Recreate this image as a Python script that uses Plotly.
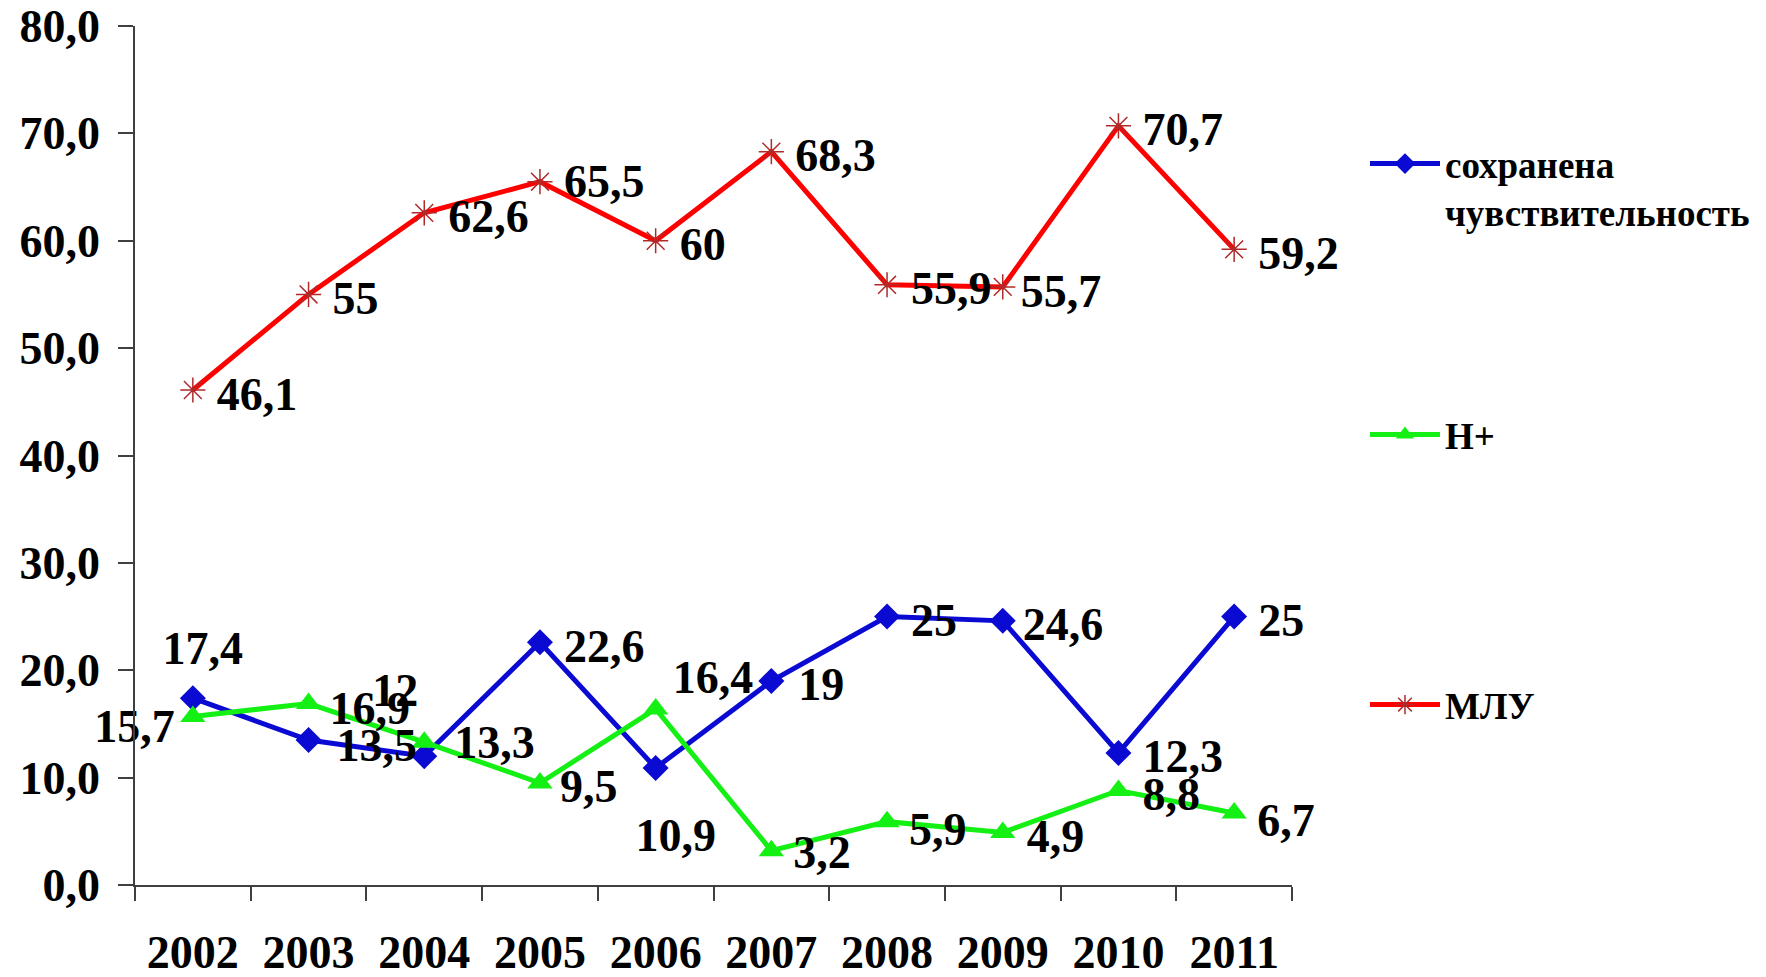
import plotly.graph_objects as go

years = ["2002", "2003", "2004", "2005", "2006", "2007", "2008", "2009", "2010", "2011"]
sens_name = "сохранена<br>чувствительность"
h_name = "Н+"
mdr_name = "МЛУ"
sens_vals = [17.4, 13.5, 12, 22.6, 10.9, 19, 25, 24.6, 12.3, 25]
h_vals = [15.7, 16.9, 13.3, 9.5, 16.4, 3.2, 5.9, 4.9, 8.8, 6.7]
mdr_vals = [46.1, 55, 62.6, 65.5, 60, 68.3, 55.9, 55.7, 70.7, 59.2]
y_ticks = [0, 10, 20, 30, 40, 50, 60, 70, 80]

FONT = "Liberation Serif, Times New Roman, serif"
BLUE = "#0a0ad2"
GREEN = "#14f014"
RED = "#ff0000"
STAR = "#b02a2a"

W, H = 1766, 977
ML, MR, MT, MB = 127, 482, 18, 100
PX_X = (W - ML - MR) / len(years)      # px per category
PX_Y = (H - MT - MB) / 80.0            # px per y unit

# label placement per point: (textposition, dx px, dy px [down +])
D = ("middle right", 24, 8)
sens_pos = [("middle center", 10, -46), ("middle right", 28, 9), ("middle center", -29, -62), D,
            ("middle center", 20, 72), ("middle right", 27, 8), D, ("middle right", 20, 8), D, D]
h_pos = [("middle left", -18, 14), ("middle right", 21, 9), ("middle right", 30, 4), ("middle right", 20, 8),
         ("middle right", 17, -27), ("middle right", 22, 6), ("middle right", 22, 12), D, D,
         ("middle right", 23, 11)]
mdr_pos = [D, D, D, ("middle right", 24, 4), D, D, D, ("middle right", 18, 9), D, D]


def fmt(v):
    return f"{v:g}".replace(".", ",")


fig = go.Figure()
fig.add_trace(go.Scatter(
    x=years, y=sens_vals, name="<b>" + sens_name + "</b>", mode="lines+markers",
    line=dict(color=BLUE, width=5),
    marker=dict(symbol="diamond", size=20, color=BLUE),
    legend="legend",
))
fig.add_trace(go.Scatter(
    x=years, y=h_vals, name="<b>" + h_name + "</b>", mode="lines+markers",
    line=dict(color=GREEN, width=5),
    marker=dict(symbol="triangle-up", size=22, color=GREEN),
    legend="legend2",
))
fig.add_trace(go.Scatter(
    x=years, y=mdr_vals, name="<b>" + mdr_name + "</b>", mode="lines+markers",
    line=dict(color=RED, width=5),
    marker=dict(symbol="asterisk-open", size=21, color=STAR,
                line=dict(color=STAR, width=1.5)),
    legend="legend3",
))

# data labels as text traces on an overlaid numeric axis aligned with the categories
for vals, pos in ((sens_vals, sens_pos), (h_vals, h_pos), (mdr_vals, mdr_pos)):
    xs, ys, tp, tx = [], [], [], []
    for i, (v, (p, dx, dy)) in enumerate(zip(vals, pos)):
        xs.append(i + dx / PX_X)
        ys.append(v - dy / PX_Y)
        tp.append(p)
        tx.append("<b>" + fmt(v) + "</b>")
    fig.add_trace(go.Scatter(
        x=xs, y=ys, text=tx, mode="text", textposition=tp, xaxis="x2",
        marker=dict(size=1), showlegend=False, hoverinfo="skip", cliponaxis=False,
        textfont=dict(family=FONT, size=46, color="black"),
    ))

legend_common = dict(
    xref="container", yref="container", x=0.7684, xanchor="left",
    font=dict(family=FONT, size=37, color="black"),
    bgcolor="rgba(0,0,0,0)", borderwidth=0, itemwidth=70,
)

fig.update_layout(
    width=W, height=H,
    margin=dict(l=ML, r=MR, t=MT, b=MB, autoexpand=False),
    paper_bgcolor="white", plot_bgcolor="white",
    separators=", ",
    legend=dict(**legend_common, y=1 - 125 / H, yanchor="top", valign="top"),
    legend2=dict(**legend_common, y=1 - 427 / H, yanchor="middle"),
    legend3=dict(**legend_common, y=1 - 697 / H, yanchor="middle"),
    xaxis=dict(
        type="category", range=[-0.5, 9.5], showgrid=False,
        showline=True, linecolor="#404040", linewidth=1.5,
        ticks="outside", tickson="boundaries", ticklen=14, tickcolor="#404040", tickwidth=1.5,
        ticklabelstandoff=26,
        tickfont=dict(family=FONT, size=46, color="black", weight="bold"),
    ),
    xaxis2=dict(type="linear", range=[-0.5, 9.5], overlaying="x", visible=False),
    yaxis=dict(
        range=[0, 80], tickvals=y_ticks, tickformat=".1f", showgrid=False, zeroline=False,
        showline=True, linecolor="#404040", linewidth=1.5,
        ticks="outside", ticklen=15, tickcolor="#404040", tickwidth=1.5,
        ticklabelstandoff=9, ticklabeloverflow="allow",
        tickfont=dict(family=FONT, size=46, color="black", weight="bold"),
    ),
)

fig.write_html("out.html")
